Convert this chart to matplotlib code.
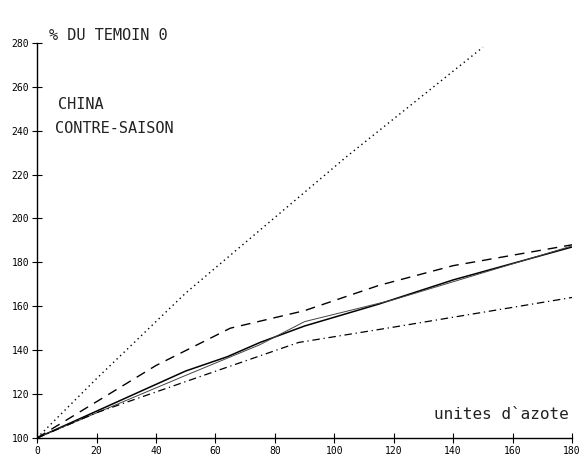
import matplotlib.pyplot as plt
import numpy as np

# courbes (unites d'azote -> % du temoin 0)
x_dotted = [0, 20, 50, 104, 150]
y_dotted = [100, 127, 166, 228, 278]

x_dashed = [0, 40, 65, 90, 115, 140, 180]
y_dashed = [100, 133, 150, 158, 169.5, 178.5, 188]

x_solid = [0, 50, 64, 75, 90, 115, 140, 180]
y_solid = [100, 130.5, 137, 143.5, 151, 161, 172, 187]

x_thin = [0, 50, 75, 90, 120, 180]
y_thin = [100, 128.5, 142.5, 153, 163, 187.5]

x_dashdot = [0, 20, 56, 88, 120, 180]
y_dashdot = [100, 111.5, 128.5, 143.5, 150.5, 164]

x_ticks = np.arange(0, 181, 20)
y_ticks = np.arange(100, 281, 20)

mono = 'DejaVu Sans Mono'

fig = plt.figure(figsize=(5.79, 4.61), dpi=100)
ax = fig.add_axes([0.064, 0.05, 0.924, 0.857])

ax.plot(x_dotted, y_dotted, color='black', linewidth=1.0, linestyle=(0, (1, 2.5)))
ax.plot(x_dashed, y_dashed, color='black', linewidth=1.0, linestyle=(0, (7, 5)))
ax.plot(x_solid, y_solid, color='black', linewidth=1.1)
ax.plot(x_thin, y_thin, color='#444444', linewidth=0.7)
ax.plot(x_dashdot, y_dashdot, color='black', linewidth=0.9, linestyle=(0, (6, 3, 1, 3)))

ax.set_xlim(0, 180)
ax.set_ylim(100, 280)
ax.set_xticks(x_ticks)
ax.set_yticks(y_ticks)
ax.set_xticklabels([str(v) for v in x_ticks], fontfamily=mono, fontsize=7)
ax.set_yticklabels([str(v) for v in y_ticks], fontfamily=mono, fontsize=7)
ax.tick_params(direction='inout', length=7, width=0.8, pad=2)

ax.spines['top'].set_visible(False)
ax.spines['right'].set_visible(False)
ax.spines['left'].set_linewidth(1.0)
ax.spines['bottom'].set_linewidth(1.0)

ax.text(4, 283.5, '% DU TEMOIN 0', fontfamily=mono, fontsize=11, color='#222222',
        va='center', ha='left')
ax.text(7, 252, 'CHINA', fontfamily=mono, fontsize=11, color='#222222', va='center')
ax.text(6, 241, 'CONTRE-SAISON', fontfamily=mono, fontsize=11, color='#222222', va='center')
ax.text(179, 110.5, 'unites d`azote', fontfamily=mono, fontsize=11.5, color='#222222',
        ha='right', va='center')

fig.savefig('out.png', dpi=100)
